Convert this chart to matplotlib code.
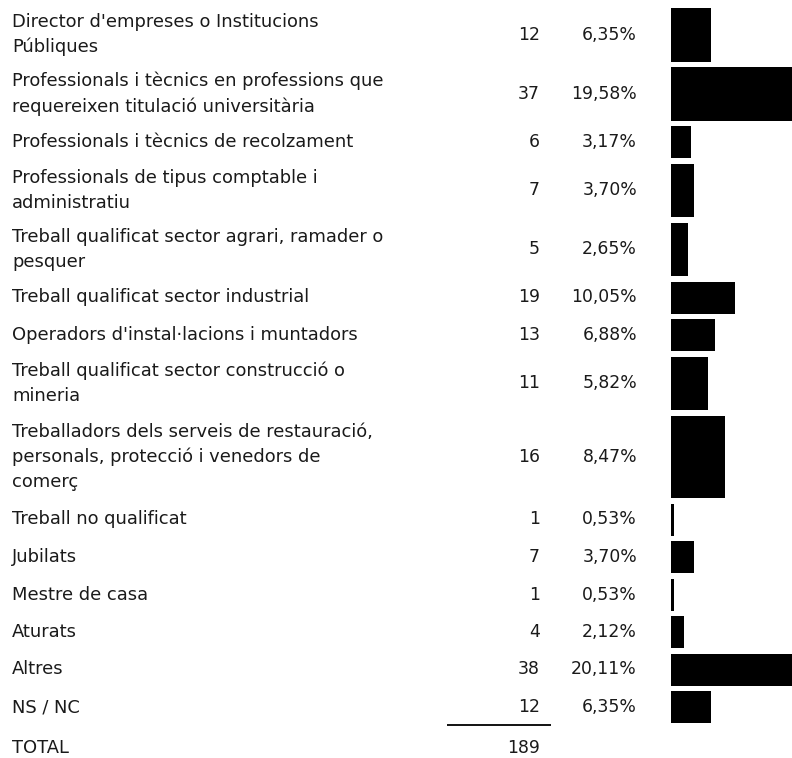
import matplotlib
matplotlib.use("Agg")
import matplotlib.pyplot as plt

categories = [
    "Director d'empreses o Institucions\nPúbliques",
    "Professionals i tècnics en professions que\nrequereixen titulació universitària",
    "Professionals i tècnics de recolzament",
    "Professionals de tipus comptable i\nadministratiu",
    "Treball qualificat sector agrari, ramader o\npesquer",
    "Treball qualificat sector industrial",
    "Operadors d'instal·lacions i muntadors",
    "Treball qualificat sector construcció o\nmineria",
    "Treballadors dels serveis de restauració,\npersonals, protecció i venedors de\ncomerç",
    "Treball no qualificat",
    "Jubilats",
    "Mestre de casa",
    "Aturats",
    "Altres",
    "NS / NC",
]
counts = [12, 37, 6, 7, 5, 19, 13, 11, 16, 1, 7, 1, 4, 38, 12]
percents = [6.35, 19.58, 3.17, 3.70, 2.65, 10.05, 6.88, 5.82, 8.47, 0.53, 3.70, 0.53, 2.12, 20.11, 6.35]
total_label = "TOTAL"
total_value = 189

W, H = 792, 758
fig = plt.figure(figsize=(W / 100, H / 100), dpi=100)
fig.patch.set_facecolor("white")

plt.rcParams["font.family"] = ["DejaVu Sans"]
fs = 12.9
fsn = 12.4
tc = "#1a1a1a"

# layout (pixels)
row_h = {1: 37.5, 2: 59.0, 3: 88.0}
gap = 5.5
top0 = 8.0
tops, hs = [], []
t = top0
for c in categories:
    n = c.count("\n") + 1
    tops.append(t)
    hs.append(row_h[n] - gap)
    t += row_h[n]
centers = [tp + h / 2 for tp, h in zip(tops, hs)]

ax = fig.add_axes([0, 0, 1, 1])
ax.set_xlim(0, W)
ax.set_ylim(H, 0)
ax.axis("off")

for c, n, p, yc in zip(categories, counts, percents, centers):
    ax.text(12, yc, c, ha="left", va="center", fontsize=fs, color=tc, linespacing=1.47)
    ax.text(540, yc, str(n), ha="right", va="center", fontsize=fsn, color=tc)
    ax.text(637, yc, ("%.2f" % p).replace(".", ",") + "%", ha="right", va="center",
            fontsize=fsn, color=tc)

ax.plot([447, 551], [725, 725], color="black", lw=1.3, solid_capstyle="butt")
ax.text(12, 748, total_label, ha="left", va="center", fontsize=fs, color=tc)
ax.text(540, 748, str(total_value), ha="right", va="center", fontsize=fsn, color=tc)

# bars axes: starts at x=671 px, 6.33 px per percent, clipped by figure edge
x0 = 671
wfrac = 0.4
bax = fig.add_axes([x0 / W, 0, wfrac, 1])
bax.set_xlim(0, wfrac * W / 6.33)
bax.set_ylim(H, 0)
bax.axis("off")
bax.barh(centers, percents, height=hs, left=0, color="black", align="center")

fig.savefig("out.png", dpi=100, facecolor="white")
